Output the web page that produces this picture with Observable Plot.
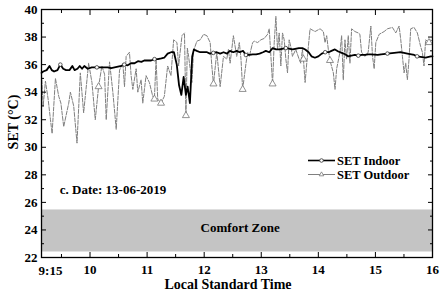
<!DOCTYPE html>
<html><head><meta charset="utf-8">
<script src="https://cdn.jsdelivr.net/npm/d3@7"></script>
<script src="https://cdn.jsdelivr.net/npm/@observablehq/plot@0.6"></script>
<style>body{margin:0;background:#fff}</style>
</head><body><div id="chart"></div>
<script>
const indoorTime = [9.15,9.18,9.24,9.29,9.33,9.37,9.43,9.48,9.53,9.58,9.64,9.69,9.73,9.78,9.82,9.86,9.90,9.96,10.03,10.12,10.21,10.26,10.31,10.37,10.43,10.49,10.55,10.60,10.66,10.72,10.78,10.84,10.90,10.95,11.01,11.07,11.13,11.19,11.25,11.30,11.36,11.42,11.47,11.52,11.56,11.60,11.64,11.68,11.71,11.75,11.79,11.82,11.87,11.93,11.99,12.05,12.10,12.16,12.22,12.28,12.34,12.40,12.45,12.51,12.57,12.62,12.68,12.73,12.79,12.85,12.91,12.97,13.03,13.08,13.14,13.20,13.26,13.32,13.43,13.55,13.66,13.72,13.77,13.83,13.88,13.94,14.00,14.06,14.12,14.18,14.23,14.29,14.35,14.41,14.47,14.52,14.58,14.64,14.70,14.76,14.82,14.87,14.92,15.04,15.10,15.21,15.33,15.44,15.50,15.56,15.68,15.73,15.88,15.97,16.00];
const indoorSET = [35.4,35.5,35.6,35.9,35.6,35.5,35.6,36.0,35.7,35.6,35.6,35.9,35.6,35.7,35.9,35.7,35.9,35.7,35.8,35.8,35.8,35.8,35.8,35.75,35.8,35.85,35.9,36.0,35.95,36.1,36.1,36.25,36.2,36.3,36.3,36.3,36.4,36.4,36.45,36.5,36.8,36.9,36.9,36.0,34.5,33.8,35.1,33.8,34.4,33.2,36.6,37.1,37.0,36.9,36.9,36.9,36.8,36.85,36.9,36.8,36.9,36.8,37.0,36.9,37.0,36.9,37.0,36.7,36.7,36.75,36.75,36.8,36.9,37.0,36.9,37.2,37.1,37.1,37.2,37.1,37.2,37.2,37.1,36.9,36.6,36.5,36.6,36.8,36.9,36.9,37.0,37.1,36.95,36.85,36.75,36.6,36.65,36.7,36.65,36.7,36.7,36.75,36.75,36.7,36.75,36.8,36.85,36.9,36.85,36.8,36.7,36.6,36.5,36.6,36.6];

const outdoorTime = [9.150,9.179,9.219,9.266,9.307,9.336,9.394,9.452,9.490,9.539,9.627,9.656,9.714,9.772,9.830,9.888,9.976,10.034,10.092,10.150,10.208,10.255,10.284,10.342,10.400,10.459,10.517,10.575,10.604,10.633,10.691,10.720,10.750,10.808,10.837,10.895,10.924,10.982,11.040,11.099,11.128,11.157,11.186,11.244,11.302,11.360,11.418,11.465,11.523,11.552,11.611,11.655,11.680,11.705,11.727,11.785,11.814,11.872,11.931,11.989,12.047,12.105,12.134,12.163,12.221,12.280,12.338,12.396,12.425,12.454,12.512,12.570,12.616,12.645,12.674,12.733,12.762,12.791,12.849,12.878,12.936,12.994,13.052,13.111,13.140,13.169,13.198,13.227,13.256,13.285,13.314,13.343,13.372,13.402,13.431,13.460,13.489,13.518,13.547,13.605,13.663,13.692,13.721,13.739,13.768,13.797,13.855,13.943,14.030,14.088,14.117,14.146,14.175,14.204,14.263,14.292,14.321,14.379,14.408,14.437,14.466,14.495,14.524,14.554,14.583,14.641,14.699,14.728,14.757,14.815,14.873,14.920,14.949,14.978,15.007,15.066,15.153,15.211,15.298,15.356,15.415,15.444,15.473,15.502,15.531,15.560,15.589,15.618,15.676,15.735,15.793,15.822,15.851,15.880,15.938,15.967,16.000];
const outdoorSET = [35.3,33.0,34.8,33.5,32.0,31.0,35.0,33.7,33.2,31.5,33.2,34.0,33.0,30.3,35.4,32.5,36.1,34.7,32.0,34.4,35.9,35.3,32.0,36.2,34.0,31.3,35.6,36.1,34.4,36.6,36.9,35.2,34.2,35.7,34.0,34.9,33.2,35.2,34.7,33.7,33.5,36.4,33.5,33.2,33.7,35.9,35.2,37.8,37.6,35.9,38.1,38.3,32.3,37.2,36.6,34.7,37.0,37.7,37.8,38.2,38.1,37.6,35.9,34.6,36.9,34.4,36.6,36.4,37.1,36.1,38.1,36.6,37.6,36.4,34.2,36.1,36.9,36.6,37.6,37.7,37.6,37.8,37.9,38.2,38.6,36.6,34.6,37.6,39.5,37.1,38.3,35.9,38.3,37.8,36.4,35.4,37.8,37.3,36.6,37.1,36.4,36.1,37.1,36.4,34.7,36.1,38.6,38.4,38.6,38.4,37.6,38.1,37.1,36.3,35.4,34.2,35.7,36.9,38.1,34.9,37.8,36.4,38.1,36.1,38.6,38.4,38.3,38.2,36.9,36.6,36.9,38.8,36.6,35.7,37.6,38.2,38.4,38.6,38.7,38.3,38.8,37.8,36.6,35.4,36.1,34.9,36.4,38.6,38.7,38.3,37.3,36.9,35.9,37.8,37.6,37.8,37.7];

const indoorMarkerTimes = [9.48,10.12,10.60,11.13,12.16,12.73,13.43,14.12,14.70,15.21,15.73];
const outdoorMarkerTimes = [10.150,11.128,11.244,11.680,12.163,12.674,13.198,13.739,14.204,15.938];

const xMajor = [9.15,10,11,12,13,14,15,16];
const xMinor = [9.5,10.5,11.5,12.5,13.5,14.5,15.5];
const xLabels = [10,11,12,13,14,15,16];
const firstXLabel = "9:15";
const yMajor = [22,24,26,28,30,32,34,36,38,40];
const yMinor = [23,25,27,29,31,33,35,37,39];
const comfortZone = {low: 22.4, high: 25.45};

const indoor = indoorTime.map((t, i) => ({t, v: indoorSET[i]}));
const outdoor = outdoorTime.map((t, i) => ({t, v: outdoorSET[i]}));
const indoorMarks = indoor.filter(d => indoorMarkerTimes.includes(d.t));
const outdoorMarks = outdoor.filter(d => outdoorMarkerTimes.includes(d.t));

const blank = () => "";
const chart = Plot.plot({
  width: 445, height: 294,
  marginLeft: 41, marginRight: 13, marginTop: 9, marginBottom: 37,
  style: {fontFamily: "Liberation Serif", fontWeight: "bold", fontSize: "13px", background: "white", color: "black"},
  x: {domain: [9.15, 16]},
  y: {domain: [22, 40]},
  marks: [
    Plot.rect([comfortZone], {x1: 9.15, x2: 16, y1: "low", y2: "high", fill: "#c4c4c4"}),
    Plot.text(["Comfort Zone"], {x: 12.63, y: 24.15, text: d => d, fontSize: 13, fontWeight: "bold"}),
    Plot.text(["c. Date: 13-06-2019"], {x: 9.47, y: 26.88, text: d => d, textAnchor: "start", fontSize: 13, fontWeight: "bold"}),
    Plot.line(outdoor, {x: "t", y: "v", stroke: "#808080", strokeWidth: 1, strokeDasharray: "4,1.5"}),
    Plot.dot(outdoorMarks, {x: "t", y: "v", symbol: "triangle", r: 2.6, stroke: "#777", fill: "white", strokeWidth: 0.8}),
    Plot.line(indoor, {x: "t", y: "v", stroke: "black", strokeWidth: 1.8}),
    Plot.dot(indoorMarks, {x: "t", y: "v", r: 1.8, stroke: "#333", fill: "white", strokeWidth: 0.8}),
    Plot.axisX(xMajor, {anchor: "bottom", tickSize: -5, tickFormat: blank, label: null}),
    Plot.axisX(xMinor, {anchor: "bottom", tickSize: -3, tickFormat: blank, label: null}),
    Plot.axisX(xMajor, {anchor: "top", tickSize: -5, tickFormat: blank, label: null}),
    Plot.axisX(xMinor, {anchor: "top", tickSize: -3, tickFormat: blank, label: null}),
    Plot.axisX(xLabels, {anchor: "bottom", tickSize: 0, tickPadding: 7, label: null, fontSize: 13}),
    Plot.text([firstXLabel], {x: 9.15, y: 22, text: d => d, dx: 9, dy: 13, fontSize: 13, fontWeight: "bold"}),
    Plot.axisY(yMajor, {anchor: "left", tickSize: -5, tickFormat: blank, label: null}),
    Plot.axisY(yMinor, {anchor: "left", tickSize: -3, tickFormat: blank, label: null}),
    Plot.axisY(yMajor, {anchor: "right", tickSize: -5, tickFormat: blank, label: null}),
    Plot.axisY(yMinor, {anchor: "right", tickSize: -3, tickFormat: blank, label: null}),
    Plot.axisY(yMajor, {anchor: "left", tickSize: 0, tickPadding: 4, label: null, fontSize: 13}),
    Plot.frame({stroke: "black", strokeWidth: 1.3})
  ]
});

const svg = d3.select(chart);
svg.append("text").attr("x", 228).attr("y", 289).attr("text-anchor", "middle")
  .attr("font-size", 14).attr("font-weight", "bold").text("Local Standard Time");
svg.append("text").attr("transform", "translate(18,122) rotate(-90)").attr("text-anchor", "middle")
  .attr("font-size", 14).attr("font-weight", "bold").text("SET (°C)");
const leg = svg.append("g");
[{name: "SET Indoor", y: 160.5, stroke: "black", w: 1.6, sym: "circle"},
 {name: "SET Outdoor", y: 174.5, stroke: "#808080", w: 1, sym: "triangle"}].forEach(e => {
  leg.append("line").attr("x1", 308).attr("x2", 335).attr("y1", e.y).attr("y2", e.y)
    .attr("stroke", e.stroke).attr("stroke-width", e.w);
  if (e.sym === "circle") {
    leg.append("circle").attr("cx", 321.5).attr("cy", e.y).attr("r", 1.8).attr("fill", "white").attr("stroke", "#333").attr("stroke-width", 0.8);
  } else {
    leg.append("path").attr("d", d3.symbol(d3.symbolTriangle, 9)()).attr("transform", `translate(321.5,${e.y})`)
      .attr("fill", "white").attr("stroke", "#777").attr("stroke-width", 0.8);
  }
  leg.append("text").attr("x", 337).attr("y", e.y).attr("dy", "0.35em").attr("text-anchor", "start")
    .attr("font-size", 12.5).attr("font-weight", "bold").text(e.name);
});
document.getElementById("chart").appendChild(chart);
</script>
</body></html>
